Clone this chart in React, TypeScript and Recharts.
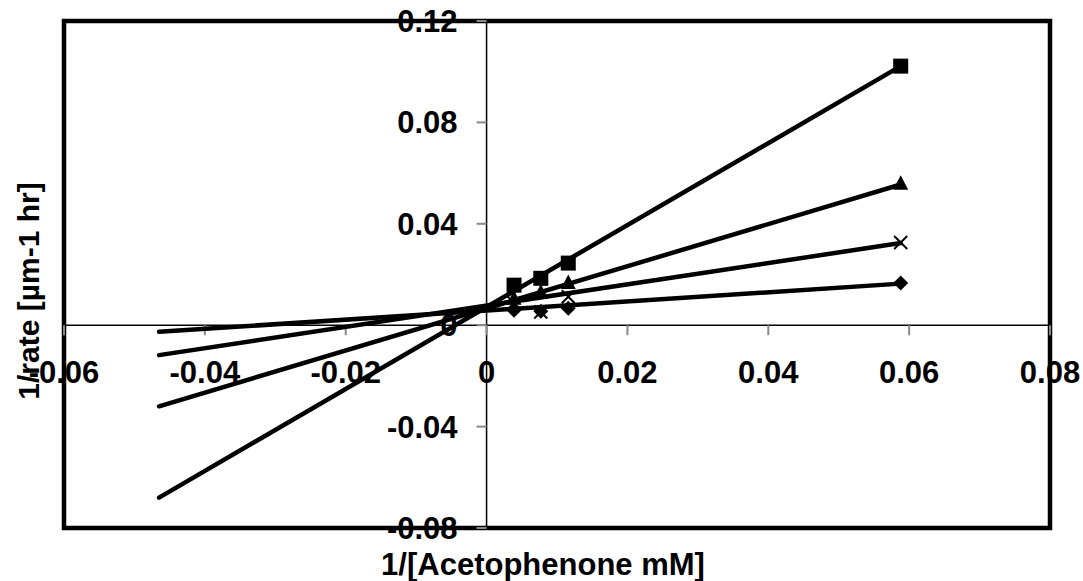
import React from "react";
import { ReferenceArea, ReferenceLine, Scatter, ScatterChart, XAxis, YAxis } from "recharts";

// measured concentrations (1/mM)
const conc = [0.0039, 0.0077, 0.0116, 0.0588];

// 1/rate for each inhibitor level
const squareRate = [0.0158, 0.0185, 0.0245, 0.1022];
const triangleRate = [0.0104, 0.0129, 0.0166, 0.0558];
const crossRate = [0.0088, 0.0052, 0.0112, 0.0326];
const diamondRate = [0.0059, 0.0055, 0.0067, 0.0166];

// linear trendlines (extended back to x = -0.0465)
const fitX = [-0.0465, 0.0588];
const squareFit = [-0.068, 0.1022];
const triangleFit = [-0.032, 0.0555];
const crossFit = [-0.0118, 0.0324];
const diamondFit = [-0.0026, 0.0164];

const xTicks = [-0.06, -0.04, -0.02, 0, 0.02, 0.04, 0.06, 0.08];
const xTickLabels = ["-0.06", "-0.04", "-0.02", "0", "0.02", "0.04", "0.06", "0.08"];
const yTicks = [-0.08, -0.04, 0, 0.04, 0.08, 0.12];
const yTickLabels = ["-0.08", "-0.04", "0", "0.04", "0.08", "0.12"];

const FONT = "'Liberation Sans', Arial, Helvetica, sans-serif";

const pts = (xs: number[], ys: number[]) => xs.map((x, i) => ({ x, y: ys[i] }));

const SquareMark = ({ cx, cy }: any) => <rect x={cx - 7.5} y={cy - 7.5} width={15} height={15} fill="#000" />;
const TriangleMark = ({ cx, cy }: any) => (
  <polygon points={`${cx},${cy - 8.5} ${cx + 7.5},${cy + 6} ${cx - 7.5},${cy + 6}`} fill="#000" />
);
const CrossMark = ({ cx, cy }: any) => (
  <g stroke="#000" strokeWidth={2}>
    <line x1={cx - 6.5} y1={cy - 6.5} x2={cx + 6.5} y2={cy + 6.5} />
    <line x1={cx - 6.5} y1={cy + 6.5} x2={cx + 6.5} y2={cy - 6.5} />
  </g>
);
const DiamondMark = ({ cx, cy }: any) => (
  <polygon points={`${cx},${cy - 7.5} ${cx + 7.5},${cy} ${cx},${cy + 7.5} ${cx - 7.5},${cy}`} fill="#000" />
);
const NoMark = () => <g />;

const XTick = ({ cx, cy, payload }: any) => (
  <g>
    <line x1={cx} y1={cy} x2={cx} y2={cy + 10} stroke="#888" strokeWidth={2} />
    <text x={cx} y={cy + 58} textAnchor="middle" fontFamily={FONT} fontWeight="bold" fontSize={31} fill="#000">
      {payload.label}
    </text>
  </g>
);
const YTick = ({ cx, cy, payload }: any) => (
  <g>
    <line x1={cx - 10} y1={cy} x2={cx} y2={cy} stroke="#888" strokeWidth={2} />
    <text x={cx - 29} y={cy + 11} textAnchor="end" fontFamily={FONT} fontWeight="bold" fontSize={31} fill="#000">
      {payload.label}
    </text>
  </g>
);

export default function App() {
  const xTickData = xTicks.map((x, i) => ({ x, y: 0, label: xTickLabels[i] }));
  const yTickData = yTicks.map((y, i) => ({ x: 0, y, label: yTickLabels[i] }));
  const lineStyle = { stroke: "#000", strokeWidth: 4.5, strokeLinecap: "round" as const };

  return (
    <div style={{ position: "absolute", left: 0, top: 0, width: 1083, height: 581, background: "#fff" }}>
      <ScatterChart width={1083} height={581} margin={{ top: 21, right: 33, bottom: 53, left: 64 }}>
        <XAxis type="number" dataKey="x" domain={[-0.06, 0.08]} hide />
        <YAxis type="number" dataKey="y" domain={[-0.08, 0.12]} hide />
        <ReferenceLine x={0} stroke="#000" strokeWidth={1.5} />
        <ReferenceLine y={0} stroke="#000" strokeWidth={1.5} />
        <Scatter data={xTickData} shape={XTick} isAnimationActive={false} />
        <Scatter data={yTickData} shape={YTick} isAnimationActive={false} />
        <Scatter data={pts(fitX, squareFit)} line={lineStyle} shape={NoMark} isAnimationActive={false} />
        <Scatter data={pts(fitX, triangleFit)} line={lineStyle} shape={NoMark} isAnimationActive={false} />
        <Scatter data={pts(fitX, crossFit)} line={lineStyle} shape={NoMark} isAnimationActive={false} />
        <Scatter data={pts(fitX, diamondFit)} line={lineStyle} shape={NoMark} isAnimationActive={false} />
        <Scatter data={pts(conc, squareRate)} shape={SquareMark} isAnimationActive={false} />
        <Scatter data={pts(conc, triangleRate)} shape={TriangleMark} isAnimationActive={false} />
        <Scatter data={pts(conc, crossRate)} shape={CrossMark} isAnimationActive={false} />
        <Scatter data={pts(conc, diamondRate)} shape={DiamondMark} isAnimationActive={false} />
        <ReferenceArea x1={-0.06} x2={0.08} y1={-0.08} y2={0.12} fill="none" stroke="#000" strokeWidth={4.5} ifOverflow="visible" />
      </ScatterChart>
      <svg width={1083} height={581} style={{ position: "absolute", left: 0, top: 0, pointerEvents: "none" }}>
        <text x={543} y={575} textAnchor="middle" fontFamily={FONT} fontWeight="bold" fontSize={31} fill="#000">
          1/[Acetophenone mM]
        </text>
        <text
          x={28}
          y={291}
          transform="rotate(-90 28 291)"
          textAnchor="middle"
          dominantBaseline="central"
          fontFamily={FONT}
          fontWeight="bold"
          fontSize={30}
          fill="#000"
        >
          1/rate [µm-1 hr]
        </text>
      </svg>
    </div>
  );
}
